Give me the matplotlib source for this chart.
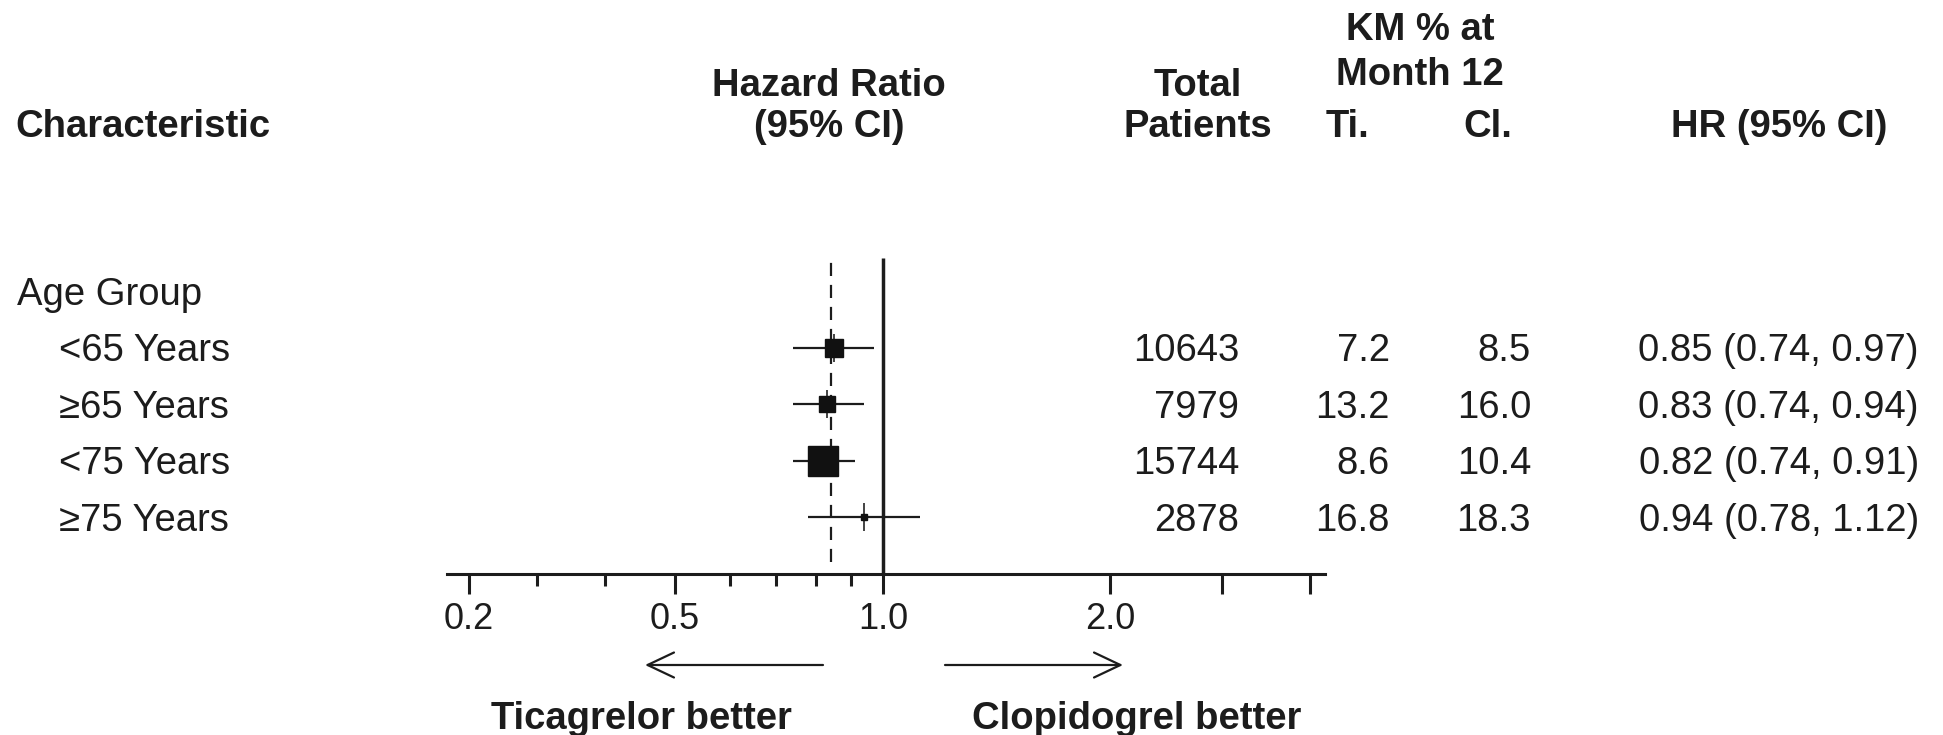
import numpy as np
import matplotlib
matplotlib.use("Agg")
import matplotlib.pyplot as plt
import matplotlib.transforms as mtransforms
from matplotlib.patches import FancyArrowPatch

# Subgroup results, age group
subgroups = ["<65 Years", "\u226565 Years", "<75 Years", "\u226575 Years"]
hr = [0.85, 0.83, 0.82, 0.94]
ci_low = [0.74, 0.74, 0.74, 0.78]
ci_high = [0.97, 0.94, 0.91, 1.12]
total_patients = [10643, 7979, 15744, 2878]
km_ti = [7.2, 13.2, 8.6, 16.8]
km_cl = [8.5, 16.0, 10.4, 18.3]
overall_hr = 0.84

tick_major = [0.2, 0.5, 1.0, 2.0, 3.0, 4.0]
tick_major_labels = ["0.2", "0.5", "1.0", "2.0", "", ""]
tick_minor = [0.3, 0.4, 0.6, 0.7, 0.8, 0.9]

# box side (pt) for each subgroup
box_size = [12.6, 11.2, 21.0, 4.5]

W, H, DPI = 1943, 735, 100
INK = "#1c1c1c"
FS = 27.5

plt.rcParams["font.family"] = ["Liberation Sans", "DejaVu Sans"]
plt.rcParams["text.color"] = INK

# hand-drawn style HR axis: log pieces between anchor ticks
ANCHOR_VALS = np.array([0.2, 0.3, 0.4, 0.5, 1.0, 2.0, 3.0, 4.0])
ANCHOR_POS = np.array([468.5, 537.0, 605.0, 675.0, 883.0, 1110.0, 1222.0, 1310.0])
LU = np.log(ANCHOR_VALS)


def fwd(x):
    u = np.log(np.clip(np.asarray(x, dtype=float), 1e-6, None))
    p = np.interp(u, LU, ANCHOR_POS)
    s0 = (ANCHOR_POS[1] - ANCHOR_POS[0]) / (LU[1] - LU[0])
    s1 = (ANCHOR_POS[-1] - ANCHOR_POS[-2]) / (LU[-1] - LU[-2])
    p = np.where(u < LU[0], ANCHOR_POS[0] + (u - LU[0]) * s0, p)
    p = np.where(u > LU[-1], ANCHOR_POS[-1] + (u - LU[-1]) * s1, p)
    return p


def inv(p):
    p = np.asarray(p, dtype=float)
    u = np.interp(p, ANCHOR_POS, LU)
    s0 = (LU[1] - LU[0]) / (ANCHOR_POS[1] - ANCHOR_POS[0])
    s1 = (LU[-1] - LU[-2]) / (ANCHOR_POS[-1] - ANCHOR_POS[-2])
    u = np.where(p < ANCHOR_POS[0], LU[0] + (p - ANCHOR_POS[0]) * s0, u)
    u = np.where(p > ANCHOR_POS[-1], LU[-1] + (p - ANCHOR_POS[-1]) * s1, u)
    return np.exp(u)


def fx(px):
    return px / W


def fy(py):
    return 1 - py / H


fig = plt.figure(figsize=(W / DPI, H / DPI), dpi=DPI)

# rows: 0 = "Age Group", 1..4 = subgroups; axis line sits at row 5
row0_px, row_step = 291.5, 56.4
ax_top_row, ax_bot_row = -1.0, 5.0
ax_left, ax_right = 447, 1325
ax_top_px = row0_px + ax_top_row * row_step
ax_bot_px = row0_px + ax_bot_row * row_step
ax = fig.add_axes([fx(ax_left), fy(ax_bot_px), (ax_right - ax_left) / W,
                   (ax_bot_px - ax_top_px) / H])
ax.set_xscale("function", functions=(fwd, inv))
ax.set_xlim(float(inv(ax_left)), float(inv(ax_right)))
ax.set_ylim(ax_bot_row, ax_top_row)
ax.patch.set_visible(False)

for side in ["top", "right", "left"]:
    ax.spines[side].set_visible(False)
ax.spines["bottom"].set_linewidth(2.2)
ax.spines["bottom"].set_color(INK)
ax.set_yticks([])
ax.set_xticks(tick_major)
ax.set_xticklabels(tick_major_labels)
ax.set_xticks(tick_minor, minor=True)
ax.tick_params(axis="x", which="major", direction="out", length=14.4, width=2.2,
               color=INK, labelsize=26, labelcolor=INK, pad=6)
ax.tick_params(axis="x", which="minor", direction="out", length=8.6, width=2.2,
               color=INK, labelbottom=False)

# reference lines
ax.plot([1.0, 1.0], [ax_bot_row, -0.594], color=INK, lw=2.5, solid_capstyle="butt",
        clip_on=False)
ax.plot([overall_hr, overall_hr], [4.80, -0.594], color=INK, lw=1.6,
        linestyle=(0, (5.9, 4.0)), clip_on=False)

rows = np.arange(1, len(subgroups) + 1)
for y, h, lo, hi, s in zip(rows, hr, ci_low, ci_high, box_size):
    ax.plot([lo, hi], [y, y], color=INK, lw=1.6, solid_capstyle="butt")
    ax.plot([h], [y], marker="s", ms=s, color="#111111", mec="#111111")
    ax.plot([h], [y], marker="|", ms=20, mew=1.1, color="#111111")

# text placed on row centres, baseline shifted down
row_tf = mtransforms.blended_transform_factory(fig.transFigure, ax.transData)
row_tf = row_tf + mtransforms.ScaledTranslation(0, -0.135, fig.dpi_scale_trans)

ax.text(fx(17), 0, "Age Group", transform=row_tf, ha="left", va="baseline",
        fontsize=FS, clip_on=False)
for y, name, n, ti, cl, h, lo, hi in zip(rows, subgroups, total_patients, km_ti,
                                         km_cl, hr, ci_low, ci_high):
    ax.text(fx(59), y, name, transform=row_tf, ha="left", va="baseline", fontsize=FS)
    ax.text(fx(1239), y, f"{n}", transform=row_tf, ha="right", va="baseline",
            fontsize=FS)
    ax.text(fx(1390), y, f"{ti:.1f}", transform=row_tf, ha="right", va="baseline",
            fontsize=FS)
    ax.text(fx(1531), y, f"{cl:.1f}", transform=row_tf, ha="right", va="baseline",
            fontsize=FS)
    ax.text(fx(1919), y, f"{h:.2f} ({lo:.2f}, {hi:.2f})", transform=row_tf,
            ha="right", va="baseline", fontsize=FS)

# column headers
hdr = dict(fontsize=FS, fontweight="bold", va="baseline")
fig.text(fx(15), fy(137), "Characteristic", ha="left", **hdr)
fig.text(fx(829), fy(96), "Hazard Ratio", ha="center", **hdr)
fig.text(fx(829), fy(137), "(95% CI)", ha="center", **hdr)
fig.text(fx(1198), fy(96), "Total", ha="center", **hdr)
fig.text(fx(1198), fy(137), "Patients", ha="center", **hdr)
fig.text(fx(1420), fy(40), "KM % at", ha="center", **hdr)
fig.text(fx(1420), fy(85), "Month 12", ha="center", **hdr)
fig.text(fx(1347), fy(137), "Ti.", ha="center", **hdr)
fig.text(fx(1488), fy(137), "Cl.", ha="center", **hdr)
fig.text(fx(1779), fy(137), "HR (95% CI)", ha="center", **hdr)

# direction arrows and captions
for x0, x1 in [(823, 645), (945, 1123)]:
    fig.patches.append(FancyArrowPatch(
        (fx(x0), fy(665)), (fx(x1), fy(665)), transform=fig.transFigure,
        arrowstyle="->,head_length=0.95,head_width=0.45", mutation_scale=20,
        lw=1.6, color=INK, shrinkA=0, shrinkB=0))
fig.text(fx(641), fy(729), "Ticagrelor better", ha="center", **hdr)
fig.text(fx(1137), fy(729), "Clopidogrel better", ha="center", **hdr)

fig.savefig("out.png", dpi=DPI, facecolor="white")
